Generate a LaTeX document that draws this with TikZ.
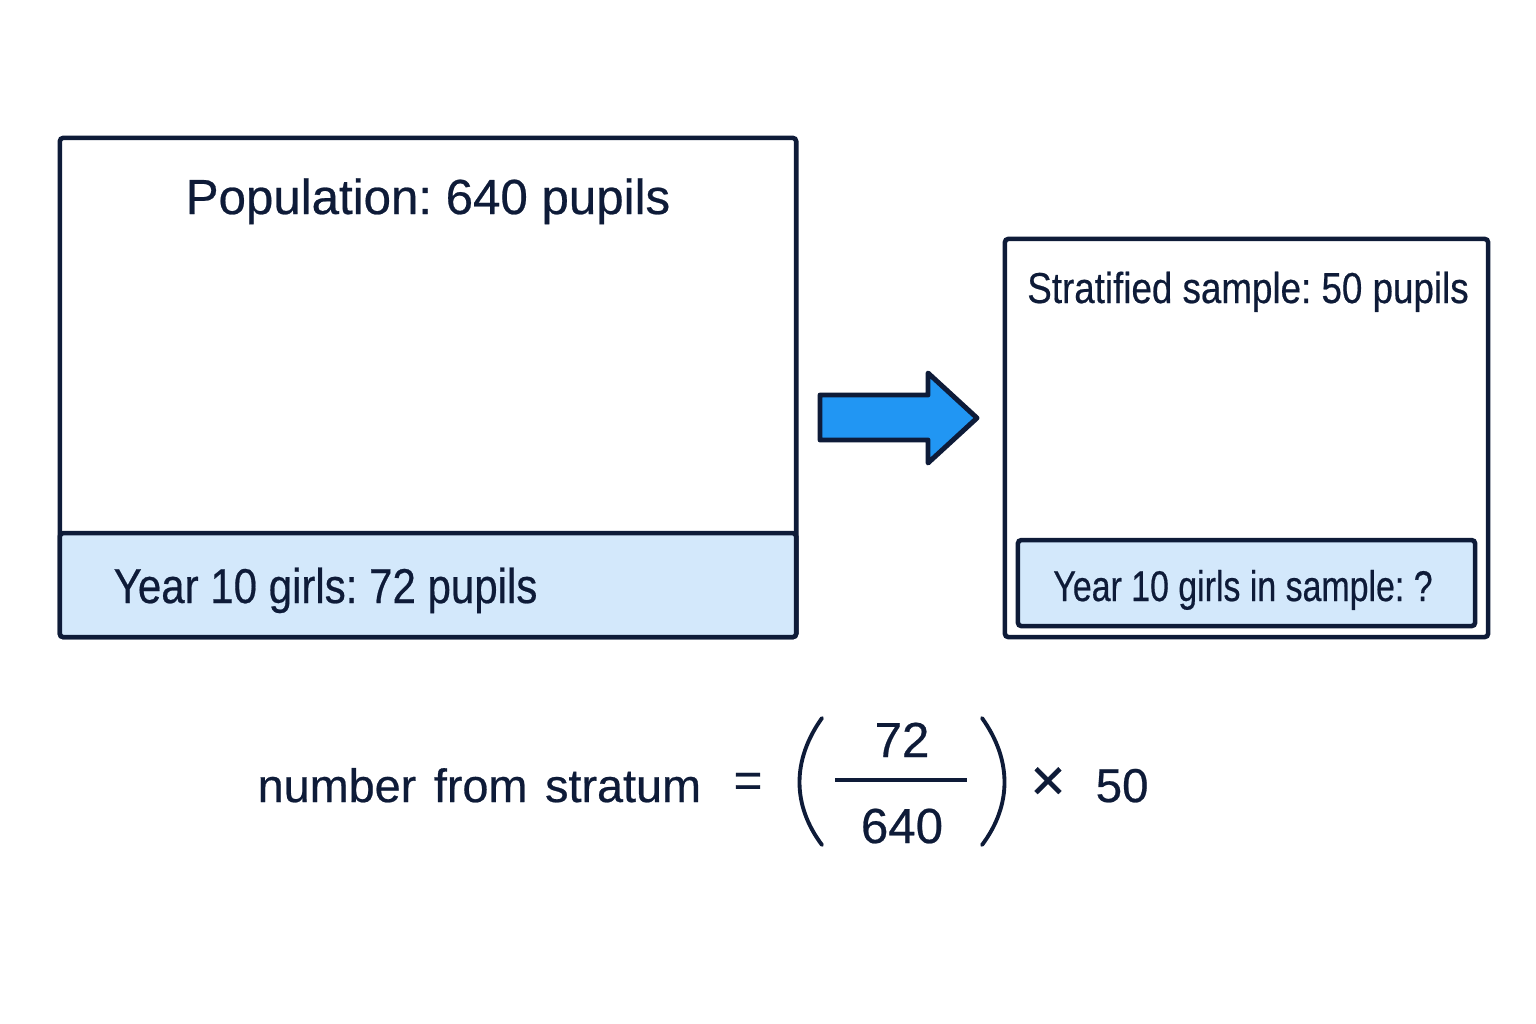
\documentclass[tikz,border=0pt]{standalone}
\usepackage{fontspec}
\usepackage{graphicx}
\setmainfont{Liberation Sans}[FakeBold=0.5]
\frenchspacing
\definecolor{navy}{HTML}{0E1B38}
\definecolor{stripblue}{HTML}{D3E8FB}
\definecolor{arrowblue}{HTML}{2196F3}
\newcommand{\narrow}[2]{\scalebox{#1}[1]{#2}}
\tikzset{
	box/.style={draw=navy, line width=1.3pt, rounded corners=1pt, inner sep=0pt},
	txt/.style={text=navy, inner sep=0pt}
}
\begin{document}
\begin{tikzpicture}[x=0.01cm, y=-0.01cm]
	\useasboundingbox[fill=white] (0,0) rectangle (1536,1024);
	
	% population
	\node[box, minimum width=7.36cm, minimum height=4.99cm] (pop) at (428,387.5) {};
	\node[box, fill=stripblue, minimum width=7.36cm, minimum height=1.04cm, anchor=south] (strip) at (pop.south) {};
	\node[txt, anchor=base, font=\fontsize{14}{16}\selectfont] (poptitle) at (428,214) {Population: 640 pupils};
	\node[txt, anchor=base west, font=\fontsize{13.9}{16}\selectfont] (popgirls) at (113,603) {\narrow{0.86}{Year 10 girls: 72 pupils}};
	
	% arrow
	\draw[navy, line width=1.4pt, line join=round, fill=arrowblue] (820,395) -- (928,395) -- (928,373) -- (977,418) -- (928,463) -- (928,440) -- (820,440) -- cycle;
	
	% sample
	\node[box, minimum width=4.83cm, minimum height=3.98cm] (sample) at (1246.5,438) {};
	\node[box, fill=stripblue, minimum width=4.57cm, minimum height=0.86cm, anchor=south] (samplegirls) at ([yshift=0.11cm]sample.south) {};
	\node[txt, anchor=base, font=\fontsize{12.3}{14}\selectfont] (sampletitle) at (1248,303) {\narrow{0.85}{Stratified sample: 50 pupils}};
	\node[txt, anchor=base, font=\fontsize{12.2}{14}\selectfont] (girlstxt) at (1243,601) {\narrow{0.79}{Year 10 girls in sample: ?}};
	
	% formula
	\node[txt, anchor=base west, font=\fontsize{13.3}{16}\selectfont] (stratum) at (257,802) {number\hspace{0.1em} from\hspace{0.1em} stratum};
	\node[txt, font=\fontsize{14}{16}\selectfont] (eq) at (748,785) {=};
	\node[txt, anchor=base, font=\fontsize{14}{16}\selectfont] (num) at (902,757) {72};
	\node[txt, anchor=base, font=\fontsize{14}{16}\selectfont] (den) at (902,843) {640};
	\coordinate (fl) at (835,780);
	\coordinate (fr) at (967,780);
	\draw[navy, line width=1.1pt] (fl) -- (fr);
	\draw[navy, line width=1.1pt, line cap=round] (822,718) .. controls (792,760) and (792,805) .. (822,845);
	\draw[navy, line width=1.1pt, line cap=round] (982,718) .. controls (1012,760) and (1012,805) .. (982,845);
	\node[txt, font=\fontsize{17}{18}\selectfont] (times) at (1048,784) {×};
	\node[txt, anchor=base west, font=\fontsize{13.5}{16}\selectfont] (fifty) at (1095,802) {50};
\end{tikzpicture}
\end{document}
